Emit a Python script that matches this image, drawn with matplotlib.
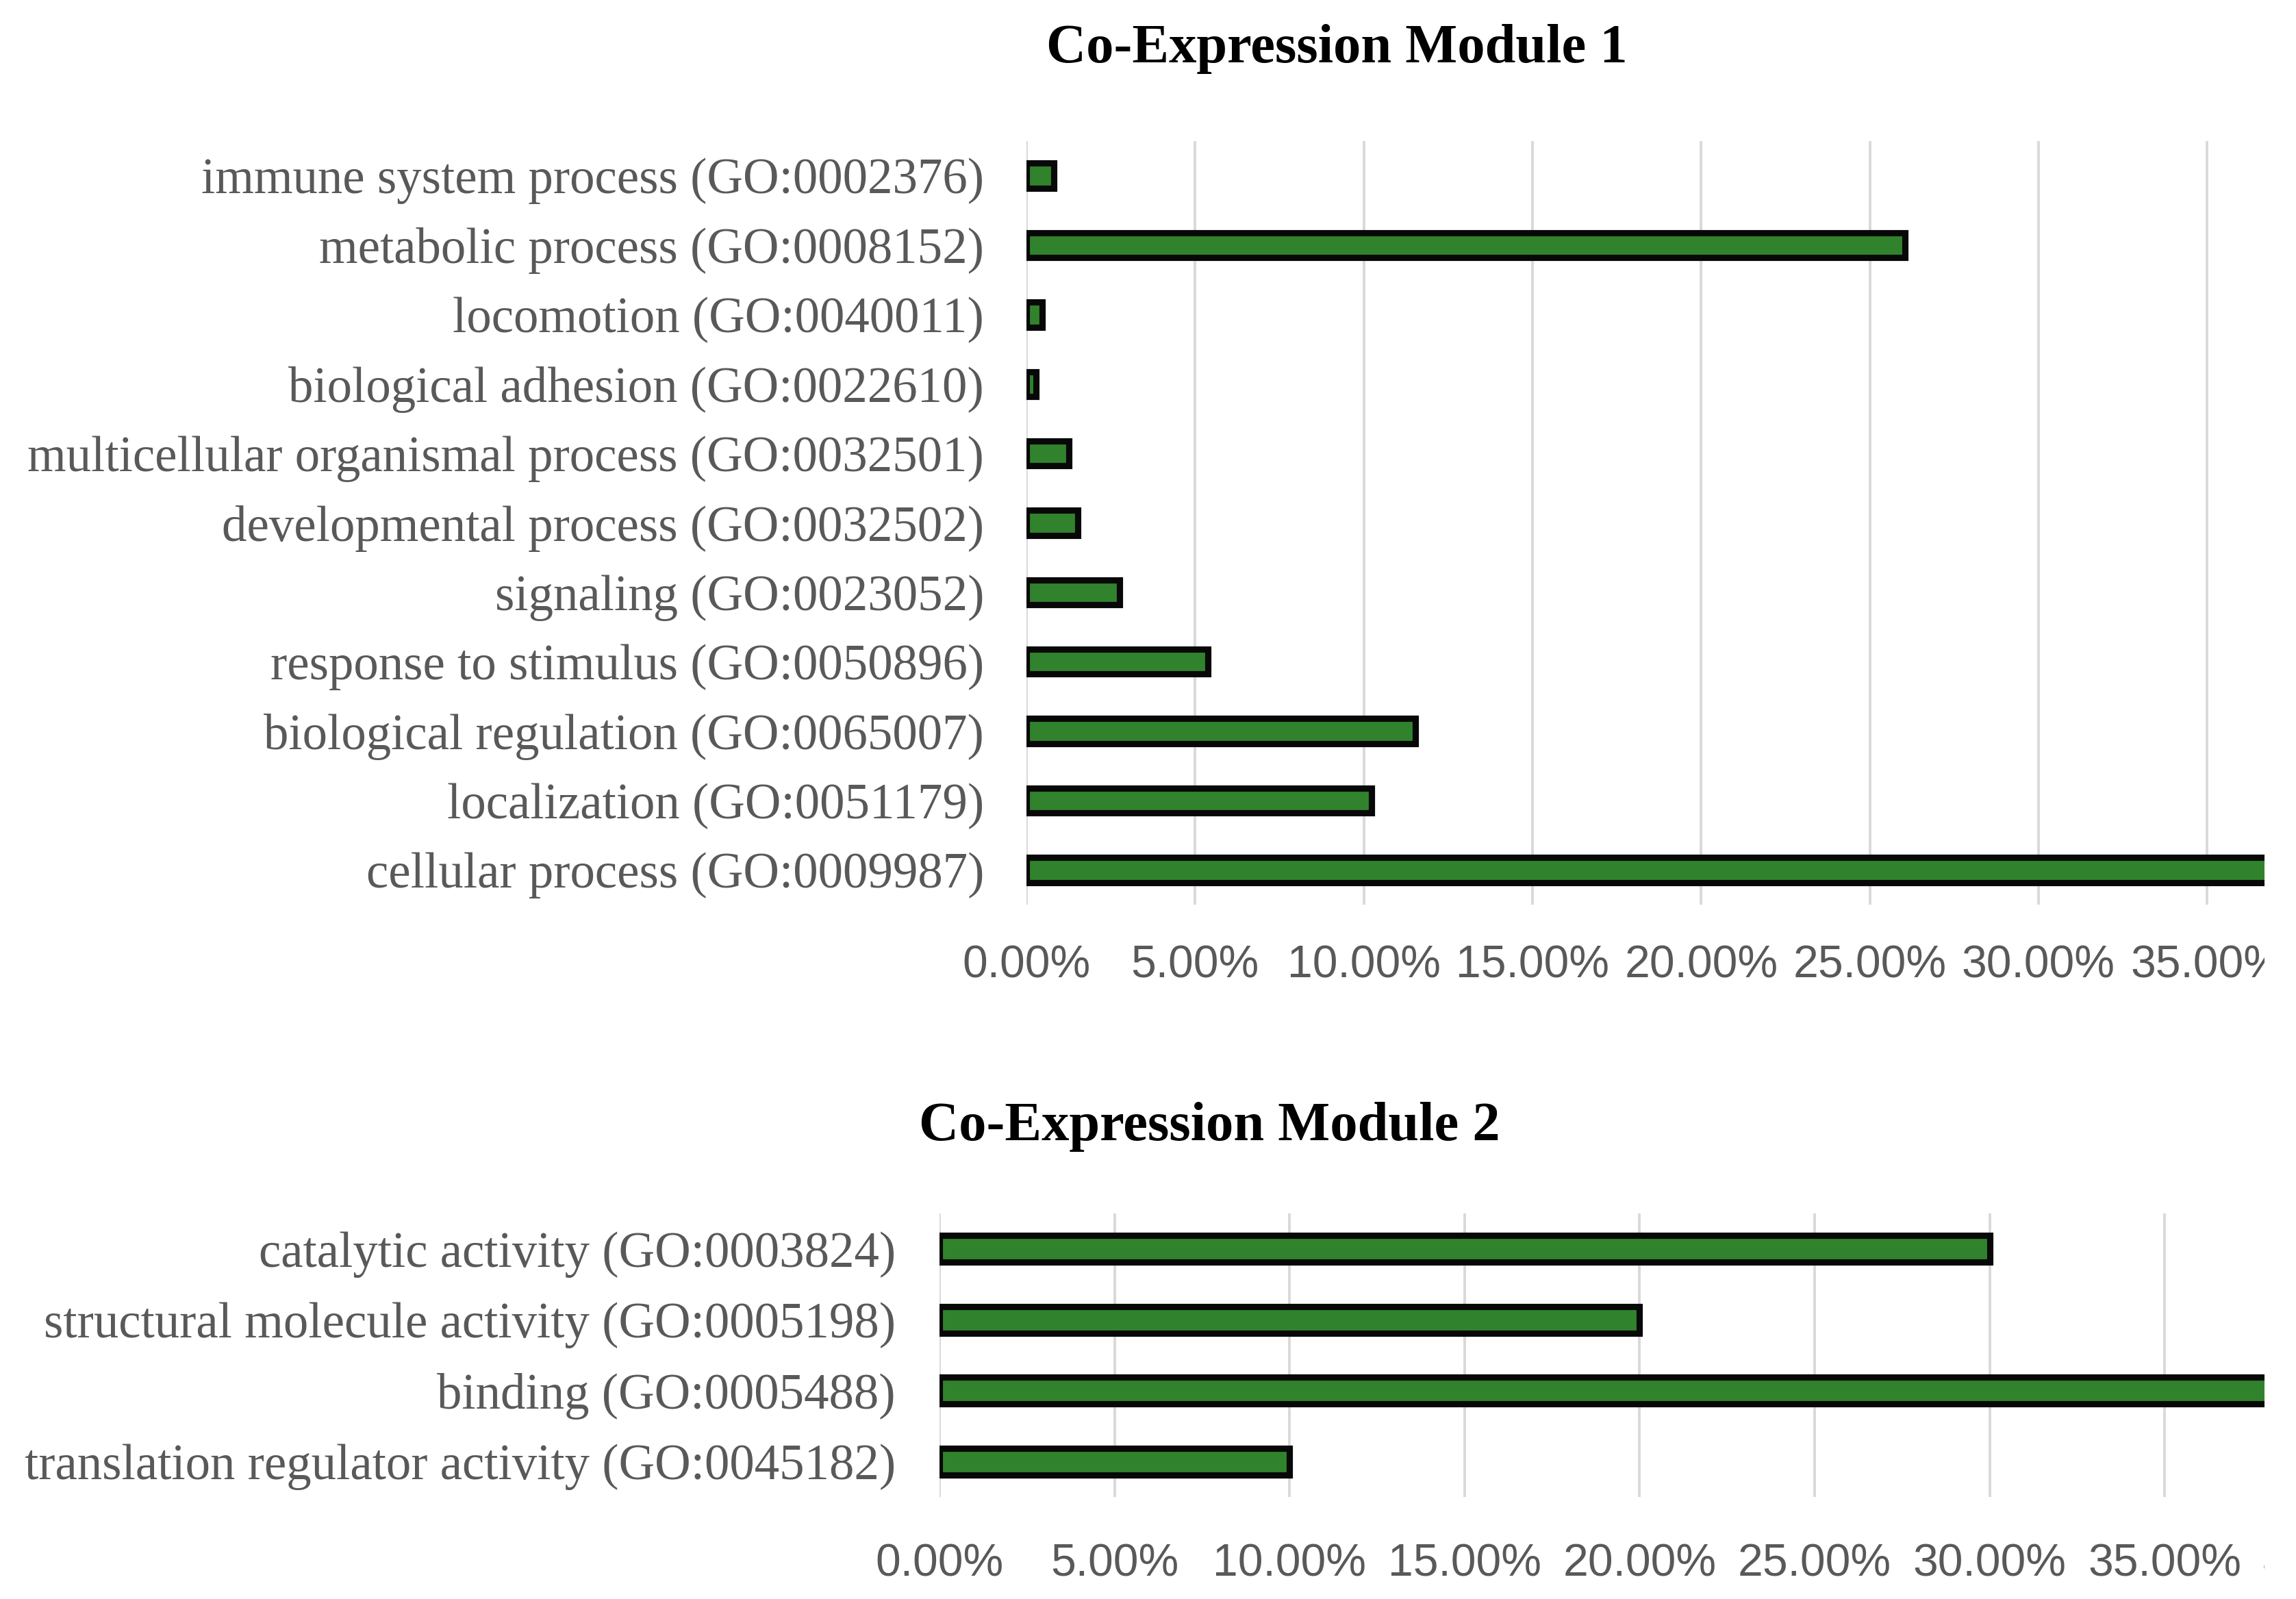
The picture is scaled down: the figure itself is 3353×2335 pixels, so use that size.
import matplotlib
matplotlib.use("Agg")
import matplotlib.pyplot as plt
from matplotlib.ticker import PercentFormatter
from matplotlib.patches import Rectangle

# ---------------- data ----------------
m1_title = "Co-Expression Module 1"
m1_categories = [
    "cellular process (GO:0009987)",
    "localization (GO:0051179)",
    "biological regulation (GO:0065007)",
    "response to stimulus (GO:0050896)",
    "signaling (GO:0023052)",
    "developmental process (GO:0032502)",
    "multicellular organismal process (GO:0032501)",
    "biological adhesion (GO:0022610)",
    "locomotion (GO:0040011)",
    "metabolic process (GO:0008152)",
    "immune system process (GO:0002376)",
]
m1_values = [38.9, 10.24, 11.54, 5.37, 2.76, 1.53, 1.26, 0.29, 0.47, 26.05, 0.82]

m2_title = "Co-Expression Module 2"
m2_categories = [
    "translation regulator activity (GO:0045182)",
    "binding (GO:0005488)",
    "structural molecule activity (GO:0005198)",
    "catalytic activity (GO:0003824)",
]
m2_values = [10.0, 40.0, 20.0, 30.0]

x_ticks = [0, 0.05, 0.10, 0.15, 0.20, 0.25, 0.30, 0.35, 0.40]

# ---------------- style ----------------
W, H = 3353, 2335
DPI = 100
BAR_COLOR = "#31822c"
EDGE_COLOR = "#080808"
GRID_COLOR = "#d9d9d9"
TEXT_GRAY = "#595959"
SERIF = ["Liberation Serif", "DejaVu Serif"]
SANS = ["Liberation Sans", "DejaVu Sans"]

fig = plt.figure(figsize=(W / DPI, H / DPI), dpi=DPI)
fig.patch.set_facecolor("white")


def px_rect(left, top, right, bottom):
    return [left / W, 1 - bottom / H, (right - left) / W, (bottom - top) / H]


def draw(ax, cats, vals, bar_h, xpad, ypad):
    y = list(range(len(cats)))
    ax.barh(y, [v / 100 for v in vals], height=bar_h, color=BAR_COLOR,
            edgecolor=EDGE_COLOR, linewidth=6.6, zorder=3)
    ax.set_ylim(-0.5, len(cats) - 0.5)
    ax.set_xlim(0, 0.40)
    ax.set_xticks(x_ticks)
    ax.xaxis.set_major_formatter(PercentFormatter(xmax=1, decimals=2))
    ax.set_yticks(y)
    ax.set_yticklabels(cats)
    for s in ax.spines.values():
        s.set_visible(False)
    ax.grid(axis="x", color=GRID_COLOR, linewidth=2.8, zorder=0)
    ax.set_axisbelow(True)
    ax.tick_params(axis="both", length=0)
    ax.tick_params(axis="x", pad=xpad)
    ax.tick_params(axis="y", pad=ypad)
    for lab in ax.get_yticklabels():
        lab.set_family(SERIF)
        lab.set_fontsize(52.5)
        lab.set_color(TEXT_GRAY)
    for lab in ax.get_xticklabels():
        lab.set_family(SANS)
        lab.set_fontsize(47.5)
        lab.set_color(TEXT_GRAY)


ax1 = fig.add_axes(px_rect(1499, 206, 1499 + 8 * 246.3, 1321))
draw(ax1, m1_categories, m1_values, 0.36, 42, 44.6)

ax2 = fig.add_axes(px_rect(1372, 1772, 1372 + 8 * 255.6, 2186))
draw(ax2, m2_categories, m2_values, 0.38, 48.6, 46)

fig.text(1952 / W, 1 - 71 / H, m1_title, ha="center", va="center",
         family=SERIF, fontweight="bold", fontsize=58, color="black")
fig.text(1766 / W, 1 - 1645 / H, m2_title, ha="center", va="center",
         family=SERIF, fontweight="bold", fontsize=58, color="black")

# the original picture is cut off at the right edge
fig.add_artist(Rectangle((3307 / W, 0), 1 - 3307 / W + 0.01, 1.0,
                         transform=fig.transFigure, facecolor="white",
                         edgecolor="none", zorder=100, clip_on=False))

fig.savefig("out.png", dpi=DPI, facecolor="white")
